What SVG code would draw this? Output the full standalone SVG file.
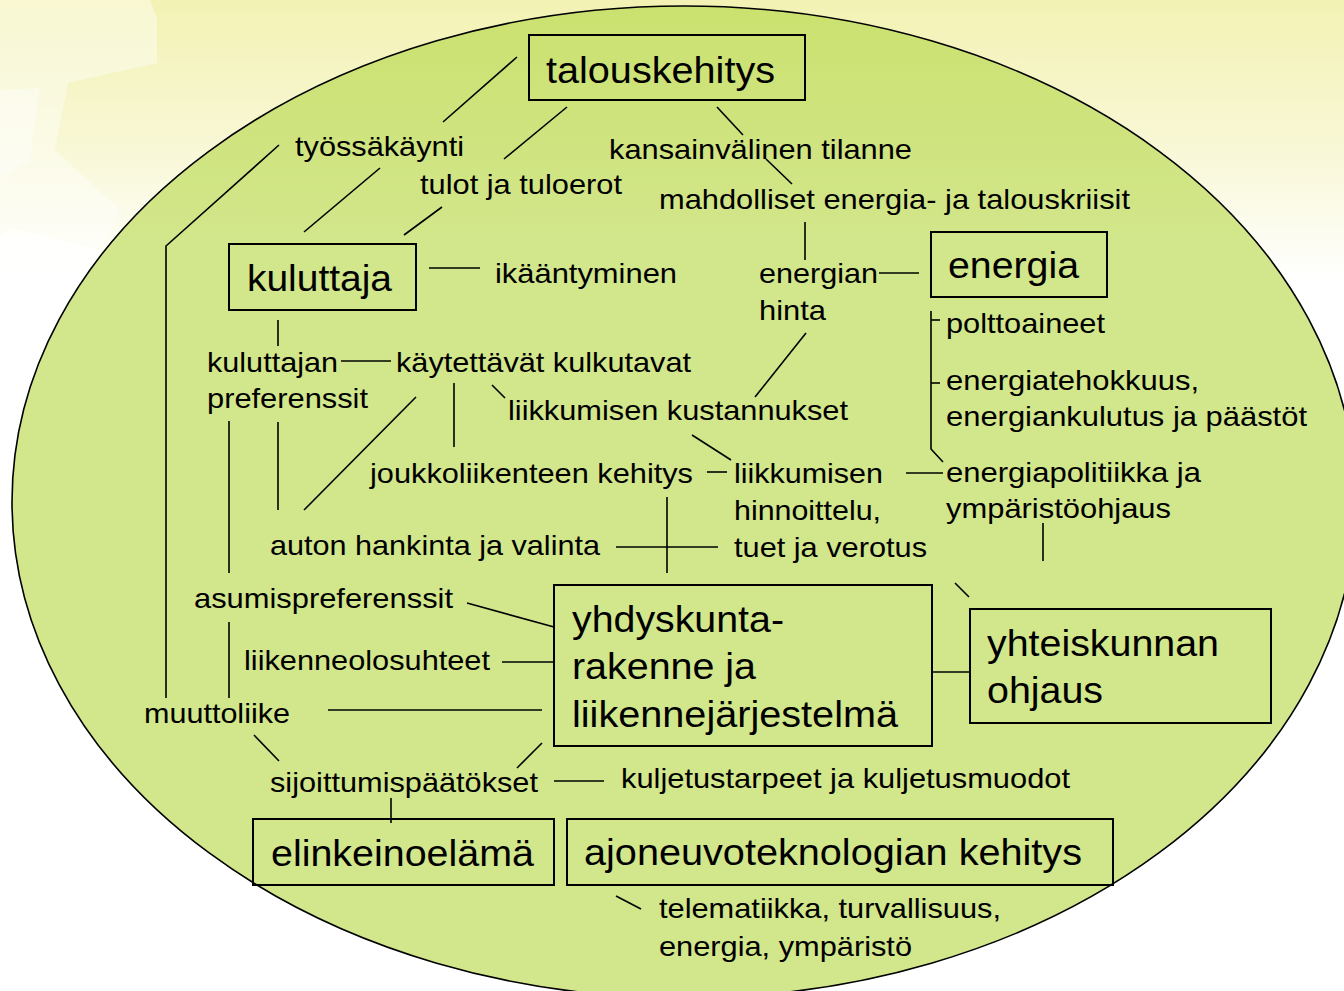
<svg xmlns="http://www.w3.org/2000/svg" width="1344" height="991" viewBox="0 0 1344 991">
  <defs>
    <linearGradient id="bgFade" x1="0" y1="0" x2="0" y2="280" gradientUnits="userSpaceOnUse">
      <stop offset="0" stop-color="#f3f2b4"/>
      <stop offset="0.5" stop-color="#f8f7d4"/>
      <stop offset="1" stop-color="#ffffff"/>
    </linearGradient>
    <linearGradient id="ovalFill" x1="0" y1="6" x2="0" y2="240" gradientUnits="userSpaceOnUse">
      <stop offset="0" stop-color="#cbe16f"/>
      <stop offset="1" stop-color="#d2e68b"/>
    </linearGradient>
    <style>
      .box { fill: none; stroke: #000; stroke-width: 2; }
      .lbl { font-family: "Liberation Sans", Arial, sans-serif; font-size: 28px; fill: #000; }
      .big { font-family: "Liberation Sans", Arial, sans-serif; font-size: 36px; fill: #000; }
      #connectors line, #connectors polyline { stroke: #000; stroke-width: 1.6; fill: none; }
    </style>
  </defs>

  <!-- backdrop with faint sunburst rays -->
  <rect x="0" y="0" width="1344" height="991" fill="#ffffff"/>
  <rect x="0" y="0" width="1344" height="280" fill="url(#bgFade)"/>
  <g fill="#ffffff">
    <polygon points="0,0 150,0 157,18 157,63 68,83 55,150 120,210 100,250 12,228 0,235" opacity="0.4"/>
    <polygon points="0,90 40,88 30,160 0,180" opacity="0.4"/>
    <polygon points="12,228 100,250 60,320 0,330 0,235" opacity="0.8"/>
  </g>

  <!-- oval -->
  <ellipse cx="684" cy="502" rx="672" ry="496" fill="url(#ovalFill)" stroke="#000" stroke-width="1.6"/>

  <!-- connectors -->
  <g id="connectors">
    <line x1="517" y1="57" x2="443" y2="122"/>
    <line x1="380" y1="168" x2="304" y2="232"/>
    <line x1="567" y1="107" x2="504" y2="159"/>
    <line x1="442" y1="207" x2="404" y2="235"/>
    <polyline points="279,145 166,246 166,698"/>
    <line x1="429" y1="268" x2="480" y2="268"/>
    <line x1="717" y1="107" x2="743" y2="135"/>
    <line x1="766" y1="159" x2="792" y2="184"/>
    <line x1="805" y1="222" x2="805" y2="260"/>
    <line x1="879" y1="273" x2="919" y2="273"/>
    <polyline points="931,311 931,449 943,462"/>
    <line x1="931" y1="320" x2="940" y2="320"/>
    <line x1="931" y1="383" x2="940" y2="383"/>
    <line x1="806" y1="333" x2="755" y2="397"/>
    <line x1="278" y1="320" x2="278" y2="346"/>
    <line x1="341" y1="361" x2="391" y2="361"/>
    <line x1="492" y1="385" x2="505" y2="398"/>
    <line x1="454" y1="383" x2="454" y2="447"/>
    <line x1="416" y1="397" x2="304" y2="510"/>
    <line x1="278" y1="422" x2="278" y2="510"/>
    <line x1="229" y1="421" x2="229" y2="573"/>
    <line x1="692" y1="435" x2="731" y2="460"/>
    <line x1="707" y1="472" x2="727" y2="472"/>
    <line x1="906" y1="473" x2="943" y2="473"/>
    <line x1="616" y1="547" x2="718" y2="547"/>
    <line x1="667" y1="497" x2="667" y2="573"/>
    <line x1="1043" y1="523" x2="1043" y2="561"/>
    <line x1="955" y1="583" x2="969" y2="597"/>
    <line x1="467" y1="603" x2="554" y2="627"/>
    <line x1="229" y1="622" x2="229" y2="698"/>
    <line x1="502" y1="662" x2="554" y2="662"/>
    <line x1="328" y1="710" x2="542" y2="710"/>
    <line x1="254" y1="735" x2="279" y2="761"/>
    <line x1="542" y1="743" x2="517" y2="768"/>
    <line x1="554" y1="781" x2="604" y2="781"/>
    <line x1="391" y1="798" x2="391" y2="823"/>
    <line x1="932" y1="672" x2="970" y2="672"/>
    <line x1="616" y1="896" x2="641" y2="909"/>
  </g>

  <!-- boxed nodes -->
  <g id="talouskehitys">
    <rect class="box" x="529" y="35" width="276" height="65"/>
    <text class="big" x="546" y="83" textLength="229" lengthAdjust="spacingAndGlyphs">talouskehitys</text>
  </g>
  <g id="kuluttaja">
    <rect class="box" x="229" y="244" width="187" height="66"/>
    <text class="big" x="247" y="291" textLength="145" lengthAdjust="spacingAndGlyphs">kuluttaja</text>
  </g>
  <g id="energia">
    <rect class="box" x="931" y="232" width="176" height="65"/>
    <text class="big" x="948" y="278" textLength="131" lengthAdjust="spacingAndGlyphs">energia</text>
  </g>
  <g id="yhdyskuntarakenne">
    <rect class="box" x="554" y="585" width="378" height="161"/>
    <text class="big" x="572" y="632" textLength="212" lengthAdjust="spacingAndGlyphs">yhdyskunta-</text>
    <text class="big" x="572" y="679" textLength="184" lengthAdjust="spacingAndGlyphs">rakenne ja</text>
    <text class="big" x="572" y="727" textLength="326" lengthAdjust="spacingAndGlyphs">liikennejärjestelmä</text>
  </g>
  <g id="yhteiskunnan-ohjaus">
    <rect class="box" x="970" y="609" width="301" height="114"/>
    <text class="big" x="987" y="656" textLength="232" lengthAdjust="spacingAndGlyphs">yhteiskunnan</text>
    <text class="big" x="987" y="703" textLength="116" lengthAdjust="spacingAndGlyphs">ohjaus</text>
  </g>
  <g id="elinkeinoelama">
    <rect class="box" x="253" y="819" width="301" height="66"/>
    <text class="big" x="271" y="866" textLength="263" lengthAdjust="spacingAndGlyphs">elinkeinoelämä</text>
  </g>
  <g id="ajoneuvoteknologia">
    <rect class="box" x="567" y="819" width="546" height="66"/>
    <text class="big" x="584" y="865" textLength="498" lengthAdjust="spacingAndGlyphs">ajoneuvoteknologian kehitys</text>
  </g>

  <!-- factor labels -->
  <g id="tyossakaynti"><text class="lbl" x="295" y="156" textLength="169" lengthAdjust="spacingAndGlyphs">työssäkäynti</text></g>
  <g id="tulot"><text class="lbl" x="420" y="194" textLength="202" lengthAdjust="spacingAndGlyphs">tulot ja tuloerot</text></g>
  <g id="kansainvalinen"><text class="lbl" x="609" y="159" textLength="303" lengthAdjust="spacingAndGlyphs">kansainvälinen tilanne</text></g>
  <g id="kriisit"><text class="lbl" x="659" y="209" textLength="471" lengthAdjust="spacingAndGlyphs">mahdolliset energia- ja talouskriisit</text></g>
  <g id="ikaantyminen"><text class="lbl" x="495" y="283" textLength="182" lengthAdjust="spacingAndGlyphs">ikääntyminen</text></g>
  <g id="energian-hinta">
    <text class="lbl" x="759" y="283" textLength="119" lengthAdjust="spacingAndGlyphs">energian</text>
    <text class="lbl" x="759" y="320" textLength="67" lengthAdjust="spacingAndGlyphs">hinta</text>
  </g>
  <g id="polttoaineet"><text class="lbl" x="946" y="333" textLength="159" lengthAdjust="spacingAndGlyphs">polttoaineet</text></g>
  <g id="energiatehokkuus">
    <text class="lbl" x="946" y="390" textLength="253" lengthAdjust="spacingAndGlyphs">energiatehokkuus,</text>
    <text class="lbl" x="946" y="426" textLength="361" lengthAdjust="spacingAndGlyphs">energiankulutus ja päästöt</text>
  </g>
  <g id="energiapolitiikka">
    <text class="lbl" x="946" y="482" textLength="255" lengthAdjust="spacingAndGlyphs">energiapolitiikka ja</text>
    <text class="lbl" x="946" y="518" textLength="225" lengthAdjust="spacingAndGlyphs">ympäristöohjaus</text>
  </g>
  <g id="kuluttajan-preferenssit">
    <text class="lbl" x="207" y="372" textLength="131" lengthAdjust="spacingAndGlyphs">kuluttajan</text>
    <text class="lbl" x="207" y="408" textLength="161" lengthAdjust="spacingAndGlyphs">preferenssit</text>
  </g>
  <g id="kulkutavat"><text class="lbl" x="396" y="372" textLength="295" lengthAdjust="spacingAndGlyphs">käytettävät kulkutavat</text></g>
  <g id="kustannukset"><text class="lbl" x="508" y="420" textLength="340" lengthAdjust="spacingAndGlyphs">liikkumisen kustannukset</text></g>
  <g id="joukkoliikenne"><text class="lbl" x="370" y="483" textLength="323" lengthAdjust="spacingAndGlyphs">joukkoliikenteen kehitys</text></g>
  <g id="hinnoittelu">
    <text class="lbl" x="734" y="483" textLength="149" lengthAdjust="spacingAndGlyphs">liikkumisen</text>
    <text class="lbl" x="734" y="520" textLength="147" lengthAdjust="spacingAndGlyphs">hinnoittelu,</text>
    <text class="lbl" x="734" y="557" textLength="193" lengthAdjust="spacingAndGlyphs">tuet ja verotus</text>
  </g>
  <g id="auton-hankinta"><text class="lbl" x="270" y="555" textLength="330" lengthAdjust="spacingAndGlyphs">auton hankinta ja valinta</text></g>
  <g id="asumispreferenssit"><text class="lbl" x="194" y="608" textLength="259" lengthAdjust="spacingAndGlyphs">asumispreferenssit</text></g>
  <g id="liikenneolosuhteet"><text class="lbl" x="244" y="670" textLength="246" lengthAdjust="spacingAndGlyphs">liikenneolosuhteet</text></g>
  <g id="muuttoliike"><text class="lbl" x="144" y="723" textLength="146" lengthAdjust="spacingAndGlyphs">muuttoliike</text></g>
  <g id="sijoittumispaatokset"><text class="lbl" x="270" y="792" textLength="268" lengthAdjust="spacingAndGlyphs">sijoittumispäätökset</text></g>
  <g id="kuljetustarpeet"><text class="lbl" x="621" y="788" textLength="449" lengthAdjust="spacingAndGlyphs">kuljetustarpeet ja kuljetusmuodot</text></g>
  <g id="telematiikka">
    <text class="lbl" x="659" y="918" textLength="342" lengthAdjust="spacingAndGlyphs">telematiikka, turvallisuus,</text>
    <text class="lbl" x="659" y="956" textLength="253" lengthAdjust="spacingAndGlyphs">energia, ympäristö</text>
  </g>
</svg>
